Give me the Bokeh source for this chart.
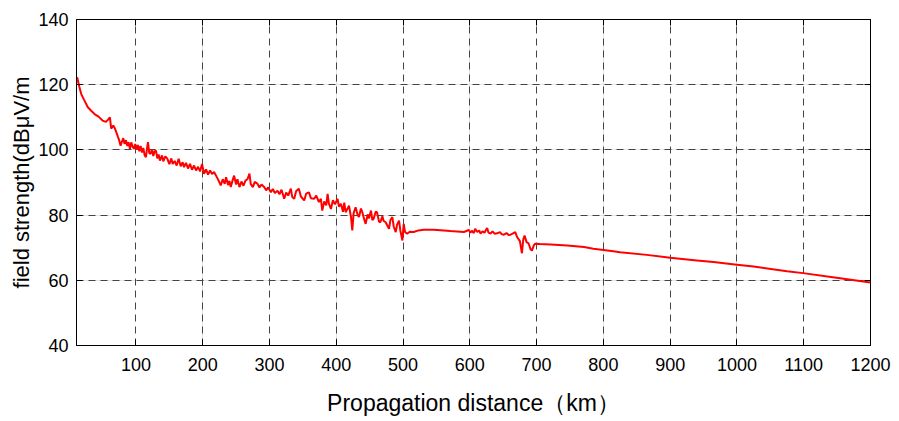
from bokeh.plotting import figure
from bokeh.models import Range1d, LinearAxis, FixedTicker, Grid
from bokeh.embed import file_html
from bokeh.resources import INLINE

# distance (km) and field strength (dBuV/m)
distance_km = [
    12, 15, 18, 22, 28, 33, 38, 44, 50, 55, 58, 61, 63, 66, 68, 71, 73, 75, 77, 79,
    81, 83, 85, 87, 89, 91, 93, 95, 97, 99, 101, 103, 105, 107, 109, 111, 113, 115,
    117, 118, 120, 122, 124, 126, 128, 130, 132, 134, 136, 139, 141, 144, 147, 150,
    153, 155, 158, 161, 164, 167, 170, 172, 175, 178, 181, 184, 187, 190, 193, 196,
    199, 202, 205, 208, 211, 214, 217, 220, 224, 227, 230, 233, 235, 238, 240, 242,
    245, 247, 250, 252, 255, 258, 261, 264, 267, 270, 272, 275, 278, 282, 285, 288,
    292, 295, 298, 302, 305, 308, 312, 315, 318, 322, 325, 328, 332, 334, 337, 340,
    344, 347, 352, 355, 359, 362, 367, 370, 374, 377, 379, 382, 385, 387, 389, 392,
    395, 398, 402, 404, 407, 410, 412, 414, 417, 419, 422, 424, 426, 429, 432, 434,
    437, 439, 442, 444, 447, 449, 452, 454, 456, 459, 461, 464, 466, 469, 471, 474,
    477, 479, 481, 484, 486, 489, 491, 494, 496, 499, 501, 503, 506, 510, 516, 523,
    531, 546, 571, 591, 596, 598, 601, 603, 606, 608, 611, 614, 616, 619, 622, 624,
    626, 628, 631, 634, 637, 641, 645, 648, 651, 655, 658, 661, 664, 668, 671, 675,
    678, 680, 682, 685, 688, 691, 693, 696, 698, 705, 721, 746, 771, 785, 815, 825,
    865, 900, 940, 965, 1000, 1025, 1075, 1099, 1149, 1200,
]
field_dbuv = [
    122.3, 119.5, 117.2, 115.5, 113.1, 112.0, 111.0, 110.2, 109.0, 108.6, 109.2,
    110.0, 106.5, 107.5, 106.8, 105.2, 104.0, 102.9, 101.3, 102.5, 103.6, 101.8,
    103.0, 101.2, 102.4, 100.3, 102.3, 101.0, 100.4, 101.8, 100.1, 101.5, 99.6,
    101.2, 99.2, 100.6, 98.4, 97.8, 101.0, 102.4, 99.0, 98.8, 100.2, 98.1, 99.6,
    99.8, 97.4, 98.6, 96.7, 98.3, 96.5, 98.0, 97.3, 95.6, 97.4, 95.7, 96.6, 95.2,
    97.3, 95.0, 96.2, 94.7, 96.0, 94.3, 95.7, 93.9, 95.2, 93.7, 94.8, 93.4, 95.7,
    92.7, 94.0, 92.4, 93.7, 92.6, 93.2, 92.1, 90.5, 89.1, 91.0, 89.6, 91.6, 89.2,
    90.5, 88.6, 90.8, 92.1, 89.4, 91.0, 88.6, 90.3, 89.0, 90.6, 91.0, 92.7, 89.5,
    88.6, 90.2, 89.6, 88.5, 89.4, 88.6, 87.6, 88.5, 87.0, 88.0, 86.8, 87.5, 86.4,
    87.8, 85.0, 86.9, 86.0, 88.1, 85.6, 85.0, 87.4, 88.1, 85.7, 84.5, 86.6, 87.0,
    85.2, 85.0, 86.0, 84.0, 85.0, 81.4, 84.2, 83.0, 86.5, 83.5, 81.9, 84.6, 83.3,
    85.0, 82.6, 83.5, 81.0, 83.8, 80.9, 82.0, 82.9, 79.5, 75.3, 80.6, 82.4, 80.0,
    79.4, 82.0, 80.9, 78.6, 77.3, 80.2, 79.0, 81.4, 78.5, 78.9, 81.0, 80.9, 78.0,
    77.8, 79.6, 78.2, 77.8, 76.6, 75.8, 78.4, 79.4, 76.5, 74.8, 77.0, 78.3, 75.2,
    72.2, 77.3, 74.8, 74.3, 74.9, 74.8, 75.3, 75.5, 75.5, 75.1, 74.8, 75.2, 75.5,
    74.6, 75.2, 74.5, 75.8, 74.8, 75.3, 74.3, 75.0, 74.6, 75.4, 76.0, 74.6, 74.3,
    75.0, 74.3, 74.4, 74.8, 74.1, 74.0, 74.5, 73.9, 74.0, 74.3, 74.8, 73.2, 72.0,
    68.3, 72.5, 73.7, 71.7, 71.3, 69.5, 69.1, 70.8, 71.2, 71.1, 71.0, 70.7, 70.2,
    69.7, 68.9, 68.6, 67.8, 66.9, 66.1, 65.6, 64.8, 64.2, 62.8, 62.2, 60.8, 59.3,
]
x_ticks = [100, 200, 300, 400, 500, 600, 700, 800, 900, 1000, 1100, 1200]
y_ticks = [40, 60, 80, 100, 120, 140]

FONT = "Liberation Sans, Arial, sans-serif"

p = figure(width=899, height=421, output_backend="svg", toolbar_location=None,
           x_range=Range1d(11, 1200), y_range=Range1d(40, 140),
           x_axis_location=None, y_axis_location=None,
           min_border_left=76, min_border_right=29,
           min_border_top=19, min_border_bottom=76)
p.background_fill_color = "white"
p.border_fill_color = "white"
p.outline_line_color = "black"
p.outline_line_width = 1

def make_axis(ticks, labels=True):
    ax = LinearAxis(ticker=FixedTicker(ticks=ticks))
    ax.major_tick_in = 6
    ax.major_tick_out = 0
    ax.minor_tick_line_color = None
    ax.axis_line_color = "black"
    ax.major_tick_line_color = "black"
    ax.major_label_text_font = FONT
    ax.major_label_text_font_size = "18px"
    ax.major_label_text_color = "black"
    ax.axis_label_text_font = FONT
    ax.axis_label_text_font_style = "normal"
    ax.axis_label_text_color = "black"
    if not labels:
        ax.major_label_text_color = None
        ax.major_label_text_font_size = "1px"
        ax.major_label_standoff = 0
    return ax

bottom = make_axis(x_ticks)
bottom.axis_label = "Propagation distance（km）"
bottom.axis_label_text_font_size = "23px"
bottom.major_label_standoff = 12
bottom.axis_label_standoff = 16
left = make_axis(y_ticks)
left.axis_label = "field strength(dBμV/m"
left.axis_label_text_font_size = "22px"
left.major_label_standoff = 8
left.axis_label_standoff = 1
top = make_axis(x_ticks, labels=False)
right = make_axis(y_ticks, labels=False)

p.add_layout(bottom, "below")
p.add_layout(left, "left")
p.add_layout(top, "above")
p.add_layout(right, "right")

p.add_layout(Grid(dimension=0, ticker=FixedTicker(ticks=x_ticks),
                  grid_line_color="#444444", grid_line_dash="7 5", grid_line_width=1))
p.add_layout(Grid(dimension=1, ticker=FixedTicker(ticks=y_ticks),
                  grid_line_color="#444444", grid_line_dash="7 5", grid_line_width=1))

p.line(distance_km, field_dbuv, line_color="#ff0000", line_width=2)

open("out.html", "w").write(file_html(p, INLINE))
